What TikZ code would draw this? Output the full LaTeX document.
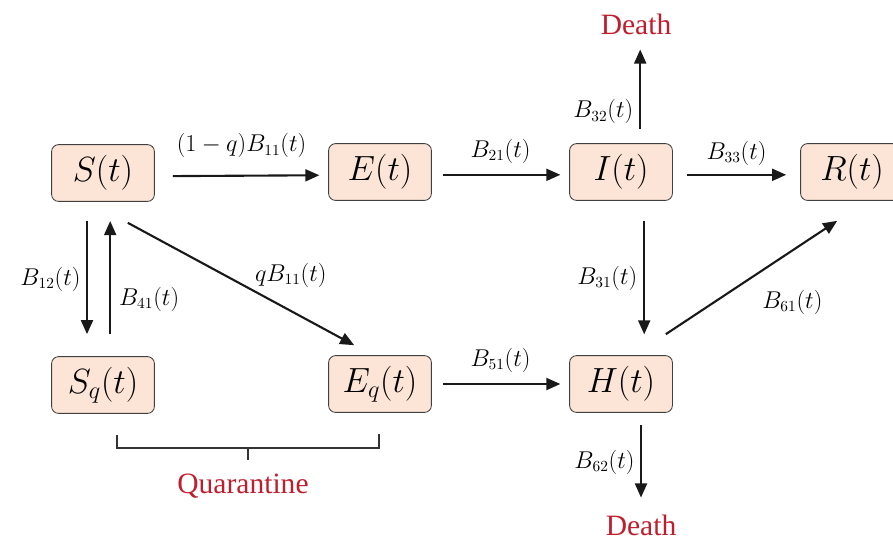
\documentclass[tikz,border=0pt]{standalone}
\usepackage{fontspec}
\setmainfont{Liberation Serif}
\newfontfamily\labelfont{Liberation Serif}
\usepackage{tikz}
\usetikzlibrary{arrows.meta,positioning,calc}
\definecolor{peach}{RGB}{252,228,214}
\definecolor{deathred}{RGB}{192,30,45}

\begin{document}
\begin{tikzpicture}[
    x=0.025cm, y=-0.025cm,
    comp/.style={rectangle, draw=black!75, fill=peach, line width=0.6pt, rounded corners=5pt, minimum width=2.57cm, minimum height=1.42cm, align=center, font=\fontsize{26}{30}\selectfont},
    redlbl/.style={text=deathred, font=\labelfont\fontsize{21}{25}\selectfont, inner sep=2pt},
    rate/.style={font=\fontsize{16}{18}\selectfont},
    flow/.style={-{Triangle[length=10pt,width=8.5pt]}, line width=1.5pt, draw=black!90},
    bracket/.style={line width=1.2pt, draw=black!80}
]
    \useasboundingbox (0,0) rectangle (893,542);

    % compartments
    \node[comp] (S)  at (103,173) {$S(t)$};
    \node[comp] (E)  at (380,172) {$E(t)$};
    \node[comp] (I)  at (621,172) {$I(t)$};
    \node[comp] (R)  at (852,172) {$R(t)$};
    \node[comp] (Sq) at (103,385) {$S_q(t)$};
    \node[comp] (Eq) at (380,384) {$E_q(t)$};
    \node[comp] (H)  at (621,384) {$H(t)$};

    \node[redlbl] (deathtop) at (636,24) {Death};
    \node[redlbl] (deathbot) at (641,525) {Death};
    \node[redlbl] (quar) at (243,486) {Quarantine};

    % horizontal flows
    \draw[flow, shorten <=0.45cm, shorten >=0.22cm] ([yshift=-0.08cm]S.east) -- ([yshift=-0.08cm]E.west)
        node[rate, midway, above=0.3cm] {$(1-q)B_{11}(t)$};
    \draw[flow, shorten <=0.28cm, shorten >=0.22cm] ([yshift=-0.07cm]E.east) -- ([yshift=-0.07cm]I.west)
        node[rate, midway, above=0.15cm] {$B_{21}(t)$};
    \draw[flow, shorten <=0.35cm, shorten >=0.35cm] ([yshift=-0.07cm]I.east) -- ([yshift=-0.07cm]R.west)
        node[rate, midway, above=0.1cm] {$B_{33}(t)$};
    \draw[flow, shorten <=0.28cm, shorten >=0.22cm] (Eq.east) -- (H.west)
        node[rate, midway, above=0.15cm] {$B_{51}(t)$};

    % vertical flows
    \draw[flow, shorten <=0.48cm, shorten >=0.55cm] ([xshift=-0.4cm]S.south) -- ([xshift=-0.4cm]Sq.north)
        node[rate, midway, left=0.02cm] {$B_{12}(t)$};
    \draw[flow, shorten <=0.55cm, shorten >=0.48cm] ([xshift=0.18cm]Sq.north) -- ([xshift=0.18cm]S.south)
        node[rate, pos=0.37, right=0.08cm] {$B_{41}(t)$};
    \draw[flow, shorten <=0.5cm, shorten >=0.52cm] ([xshift=0.58cm]I.south) -- ([xshift=0.58cm]H.north)
        node[rate, midway, left=0.03cm] {$B_{31}(t)$};
    \draw[flow, shorten <=0.35cm, shorten >=0.3cm] ([xshift=0.48cm]I.north) -- ([xshift=0.48cm]I.north |- deathtop.south)
        node[rate, pos=0.3, left=0.03cm] {$B_{32}(t)$};
    \draw[flow, shorten <=0.3cm, shorten >=0.35cm] ([xshift=0.5cm]H.south) -- ([xshift=0.5cm]H.south |- deathbot.north)
        node[rate, midway, left=0.02cm] {$B_{62}(t)$};

    % diagonal flows
    \draw[flow] ($(S.south east)+(-27,21)$) -- ($(Eq.north west)+(26,-10)$)
        node[rate, pos=0.72, above=0.45cm] {$qB_{11}(t)$};
    \draw[flow] ($(H.north east)+(-7,-21)$) -- ($(R.south west)+(37,20)$)
        node[rate, pos=0.6, below right=0.45cm and -0.3cm] {$B_{61}(t)$};

    % quarantine bracket
    \coordinate (brl) at ($(Sq.south)+(14,21)$);
    \coordinate (brr) at ($(Eq.south)+(-1,21)$);
    \draw[bracket] (brl) -- ++(0,13) -| (brr);
    \draw[bracket] ($(brl)!0.5!(brr)+(0,13)$) -- ++(0,13);
\end{tikzpicture}
\end{document}
